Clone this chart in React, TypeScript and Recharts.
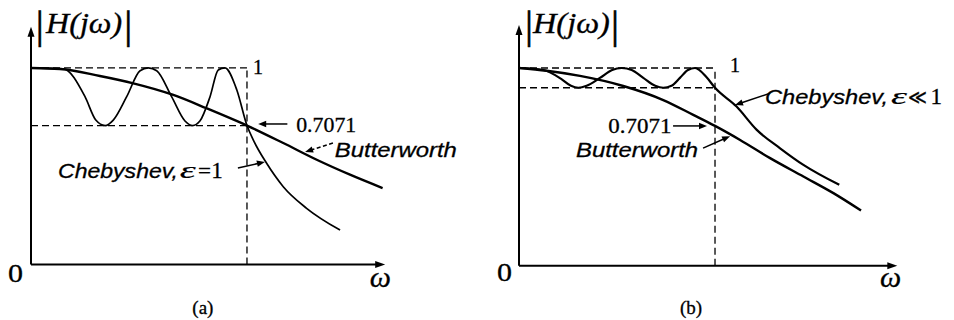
import React from 'react';
import { LineChart, Line, XAxis, YAxis, ReferenceLine, ReferenceDot } from 'recharts';

// ---------- Panel (a): Chebyshev with ε = 1 vs. Butterworth ----------
const butterA = [
  { w: 0, v: 1 }, { w: 0.134, v: 0.995 }, { w: 0.319, v: 0.959 }, { w: 0.474, v: 0.922 },
  { w: 0.659, v: 0.863 }, { w: 0.813, v: 0.795 }, { w: 1.0, v: 0.7071 }, { w: 1.168, v: 0.618 },
  { w: 1.323, v: 0.533 }, { w: 1.477, v: 0.457 }, { w: 1.628, v: 0.389 },
];
const chebA = [
  { w: 0, v: 1 }, { w: 0.15, v: 0.995 }, { w: 0.25, v: 0.854 }, { w: 0.3, v: 0.735 },
  { w: 0.343, v: 0.7071 }, { w: 0.381, v: 0.735 }, { w: 0.443, v: 0.854 }, { w: 0.505, v: 0.986 },
  { w: 0.543, v: 1 }, { w: 0.582, v: 0.986 }, { w: 0.651, v: 0.854 }, { w: 0.713, v: 0.73 },
  { w: 0.748, v: 0.7071 }, { w: 0.782, v: 0.73 }, { w: 0.829, v: 0.854 }, { w: 0.867, v: 0.99 },
  { w: 0.898, v: 1 }, { w: 0.953, v: 0.888 }, { w: 1.0, v: 0.7071 }, { w: 1.029, v: 0.634 },
  { w: 1.091, v: 0.515 }, { w: 1.168, v: 0.396 }, { w: 1.276, v: 0.286 }, { w: 1.431, v: 0.175 },
];
const rippleFloorA = 0.7071;
const domainA = { w: [0, 1.64], v: [0, 1.21] };

// ---------- Panel (b): Chebyshev with ε ≪ 1 vs. Butterworth ----------
const butterB = [
  { w: 0, v: 1 }, { w: 0.141, v: 0.986 }, { w: 0.311, v: 0.96 }, { w: 0.532, v: 0.909 },
  { w: 0.736, v: 0.838 }, { w: 0.889, v: 0.763 }, { w: 1.0, v: 0.7071 }, { w: 1.128, v: 0.636 },
  { w: 1.281, v: 0.544 }, { w: 1.451, v: 0.451 }, { w: 1.604, v: 0.367 }, { w: 1.745, v: 0.279 },
];
const chebB = [
  { w: 0, v: 1 }, { w: 0.124, v: 0.99 }, { w: 0.215, v: 0.945 }, { w: 0.265, v: 0.91 },
  { w: 0.303, v: 0.9 }, { w: 0.345, v: 0.91 }, { w: 0.413, v: 0.95 }, { w: 0.475, v: 0.99 },
  { w: 0.524, v: 1 }, { w: 0.575, v: 0.99 }, { w: 0.634, v: 0.95 }, { w: 0.695, v: 0.91 },
  { w: 0.736, v: 0.9 }, { w: 0.778, v: 0.91 }, { w: 0.821, v: 0.95 }, { w: 0.862, v: 0.99 },
  { w: 0.898, v: 1 }, { w: 0.957, v: 0.953 }, { w: 1.0, v: 0.9 }, { w: 1.11, v: 0.805 },
  { w: 1.213, v: 0.687 }, { w: 1.332, v: 0.594 }, { w: 1.451, v: 0.51 }, { w: 1.634, v: 0.409 },
];
const rippleFloorB = 0.9;
const domainB = { w: [0, 1.93], v: [0, 1.2175] };

const SERIF = "'Liberation Serif', 'Times New Roman', 'DejaVu Serif', serif";
const SANS = "'Liberation Sans', Arial, sans-serif";

// Line segment ending in a filled arrowhead at (x2, y2)
const arrowShape = (dash?: string, head = 9, half = 3.5) => (p: any) => {
  const { x1, y1, x2, y2 } = p;
  const dx = x2 - x1;
  const dy = y2 - y1;
  const len = Math.hypot(dx, dy) || 1;
  const ux = dx / len;
  const uy = dy / len;
  const bx = x2 - ux * head;
  const by = y2 - uy * head;
  const nx = -uy;
  const ny = ux;
  return (
    <g>
      <line x1={x1} y1={y1} x2={bx + ux} y2={by + uy} stroke="#000" strokeWidth={p.strokeWidth} strokeDasharray={dash} />
      <polygon points={`${x2},${y2} ${bx + nx * half},${by + ny * half} ${bx - nx * half},${by - ny * half}`} fill="#000" />
    </g>
  );
};

type Note = {
  w: number;
  v: number;
  text: string;
  size: number;
  family: string;
  italic?: boolean;
  anchor?: 'start' | 'middle' | 'end';
  length?: number;
  weight?: number;
};

const noteDot = (n: Note, key: string) => (
  <ReferenceDot
    key={key}
    x={n.w}
    y={n.v}
    r={0}
    ifOverflow="visible"
    shape={(p: any) => (
      <text
        x={p.cx}
        y={p.cy}
        fontSize={n.size}
        fontFamily={n.family}
        fontStyle={n.italic ? 'italic' : 'normal'}
        textAnchor={n.anchor ?? 'start'}
        fill="#000"
        stroke="#000"
        strokeWidth={n.weight ?? 0.3}
        textLength={n.length}
        lengthAdjust={n.length ? 'spacingAndGlyphs' : undefined}
      >
        {n.text}
      </text>
    )}
  />
);

const notesA: Note[] = [
  { w: 0.022, v: 1.155, text: '|', size: 40, family: SERIF, weight: 0.6 },
  { w: 0.07, v: 1.178, text: 'H(jω)', size: 29, family: SERIF, italic: true, length: 76 },
  { w: 0.432, v: 1.155, text: '|', size: 40, family: SERIF, weight: 0.6 },
  { w: 1.028, v: 0.969, text: '1', size: 20, family: SERIF },
  { w: 1.228, v: 0.676, text: '0.7071', size: 22, family: SERIF, length: 60 },
  { w: 1.407, v: 0.546, text: 'Butterworth', size: 20.5, family: SANS, italic: true, length: 122 },
  { w: 0.125, v: 0.439, text: 'Chebyshev,', size: 21, family: SANS, italic: true, length: 120 },
  { w: 0.689, v: 0.439, text: 'ε', size: 24, family: SERIF, italic: true, length: 16, weight: 0.15 },
  { w: 0.773, v: 0.439, text: '=', size: 20, family: SERIF, length: 13 },
  { w: 0.835, v: 0.439, text: '1', size: 23, family: SERIF },
  { w: -0.106, v: -0.0875, text: '0', size: 25, family: SERIF, length: 15 },
  { w: 1.569, v: -0.113, text: 'ω', size: 30, family: SERIF, italic: true },
  { w: 0.796, v: -0.252, text: '(a)', size: 19, family: SERIF, anchor: 'middle' },
];

const notesB: Note[] = [
  { w: 0.03, v: 1.154, text: '|', size: 40, family: SERIF, weight: 0.6 },
  { w: 0.071, v: 1.178, text: 'H(jω)', size: 29, family: SERIF, italic: true, length: 77 },
  { w: 0.47, v: 1.154, text: '|', size: 40, family: SERIF, weight: 0.6 },
  { w: 1.077, v: 0.98, text: '1', size: 20, family: SERIF },
  { w: 0.456, v: 0.67, text: '0.7071', size: 20, family: SERIF, length: 63 },
  { w: 0.291, v: 0.551, text: 'Butterworth', size: 20.5, family: SANS, italic: true, length: 122 },
  { w: 1.255, v: 0.818, text: 'Chebyshev,', size: 21, family: SANS, italic: true, length: 123 },
  { w: 1.898, v: 0.818, text: 'ε', size: 24, family: SERIF, italic: true, length: 16, weight: 0.15 },
  { w: 1.985, v: 0.818, text: '≪', size: 20, family: SERIF, length: 19 },
  { w: 2.1, v: 0.818, text: '1', size: 23, family: SERIF },
  { w: -0.112, v: -0.077, text: '0', size: 25, family: SERIF, length: 15 },
  { w: 1.842, v: -0.107, text: 'ω', size: 30, family: SERIF, italic: true },
  { w: 0.878, v: -0.244, text: '(b)', size: 19, family: SERIF, anchor: 'middle' },
];

// Leader arrows: [tail, tip] in (ω, |H|) units, plus dash pattern
type Leader = { from: [number, number]; to: [number, number]; dash?: string };
const leadersA: Leader[] = [
  { from: [1.187, 0.715], to: [1.052, 0.715] },
  { from: [1.398, 0.618], to: [1.269, 0.573], dash: '4 2.5' },
  { from: [0.958, 0.491], to: [1.083, 0.522] },
];
const leadersB: Leader[] = [
  { from: [0.786, 0.707], to: [0.959, 0.707] },
  { from: [0.939, 0.595], to: [1.077, 0.655] },
  { from: [1.281, 0.872], to: [1.102, 0.813] },
];

const DASH = '7 4';

type PanelProps = {
  left: number;
  margin: { top: number; right: number; bottom: number; left: number };
  domain: { w: number[]; v: number[] };
  butter: { w: number; v: number }[];
  cheb: { w: number; v: number }[];
  floor: number;
  chebWidth: number;
  notes: Note[];
  leaders: Leader[];
};

function Panel({ left, margin, domain, butter, cheb, floor, chebWidth, notes, leaders }: PanelProps) {
  const wMax = domain.w[1];
  const vMax = domain.v[1];
  return (
    <div style={{ position: 'absolute', left, top: 0 }}>
      <LineChart width={477} height={320} margin={margin}>
        <XAxis type="number" dataKey="w" domain={domain.w} hide allowDataOverflow />
        <YAxis type="number" dataKey="v" domain={domain.v} hide allowDataOverflow />

        {/* dashed guides: passband limits and cutoff frequency */}
        <ReferenceLine segment={[{ x: 0, y: 1 }, { x: 1, y: 1 }]} stroke="#000" strokeWidth={1.3} strokeDasharray={DASH} ifOverflow="visible" />
        <ReferenceLine segment={[{ x: 0, y: floor }, { x: 1, y: floor }]} stroke="#000" strokeWidth={1.3} strokeDasharray={DASH} ifOverflow="visible" />
        <ReferenceLine segment={[{ x: 1, y: 0 }, { x: 1, y: 1 }]} stroke="#000" strokeWidth={1.3} strokeDasharray={DASH} ifOverflow="visible" />

        {/* axes with arrowheads */}
        <ReferenceLine segment={[{ x: 0, y: 0 }, { x: wMax, y: 0 }]} strokeWidth={2} ifOverflow="visible" shape={arrowShape(undefined, 10, 3.5)} />
        <ReferenceLine segment={[{ x: 0, y: 0 }, { x: 0, y: vMax }]} strokeWidth={2} ifOverflow="visible" shape={arrowShape(undefined, 10, 3.5)} />

        <Line data={butter} dataKey="v" type="monotone" stroke="#000" strokeWidth={2.4} dot={false} activeDot={false} isAnimationActive={false} />
        <Line data={cheb} dataKey="v" type="monotone" stroke="#000" strokeWidth={chebWidth} dot={false} activeDot={false} isAnimationActive={false} />

        {leaders.map((l, i) => (
          <ReferenceLine
            key={`ld${i}`}
            segment={[{ x: l.from[0], y: l.from[1] }, { x: l.to[0], y: l.to[1] }]}
            strokeWidth={1.5}
            ifOverflow="visible"
            shape={arrowShape(l.dash, 8, 3.2)}
          />
        ))}

        {notes.map((n, i) => noteDot(n, `nt${i}`))}
      </LineChart>
    </div>
  );
}

export default function App() {
  return (
    <div style={{ position: 'absolute', left: 0, top: 0, width: 954, height: 320, background: '#fff', overflow: 'hidden' }}>
      <Panel
        left={0}
        margin={{ top: 26.7, right: 91.8, bottom: 55.5, left: 31 }}
        domain={domainA}
        butter={butterA}
        cheb={chebA}
        floor={rippleFloorA}
        chebWidth={1.7}
        notes={notesA}
        leaders={leadersA}
      />
      <Panel
        left={477}
        margin={{ top: 25, right: 56.7, bottom: 54.3, left: 42 }}
        domain={domainB}
        butter={butterB}
        cheb={chebB}
        floor={rippleFloorB}
        chebWidth={2.2}
        notes={notesB}
        leaders={leadersB}
      />
    </div>
  );
}
